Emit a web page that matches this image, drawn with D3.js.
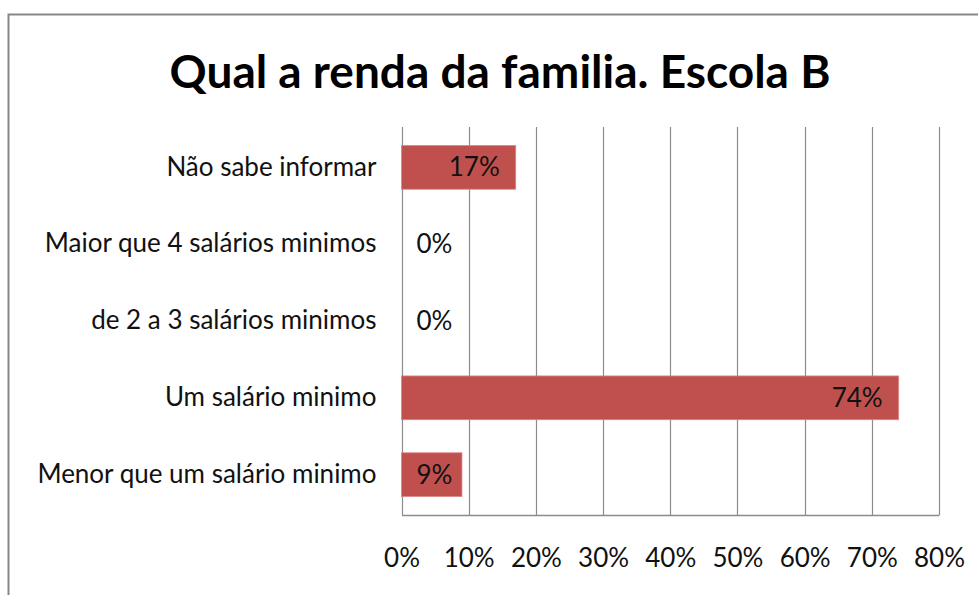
<!DOCTYPE html>
<html>
<head>
<meta charset="utf-8">
<script src="https://cdn.jsdelivr.net/npm/d3@7"></script>
<style>
	body { margin: 0; background: #fff; }
	svg { display: block; font-family: Lato, "Open Sans", sans-serif; }
</style>
</head>
<body>
<svg id="plot" width="978" height="595"></svg>
<script>
const TITLE = 'Qual a renda da familia. Escola B';
const CATEGORIES = ['Não sabe informar', 'Maior que 4 salários minimos', 'de 2 a 3 salários minimos', 'Um salário minimo', 'Menor que um salário minimo'];
const VALUES = [0.17, 0, 0, 0.74, 0.09];
const LABELS = ['17%', '0%', '0%', '74%', '9%'];
const TICKS = [0, 0.1, 0.2, 0.3, 0.4, 0.5, 0.6, 0.7, 0.8];

function draw() {
	var svg = d3.select('#plot');
	var left = 401.5, right = 939, top = 127, bottom = 515;

	// chart frame
	svg.append('rect')
		.attr('x', 8.5).attr('y', 14.5)
		.attr('width', 1000).attr('height', 1000)
		.attr('fill', 'none').attr('stroke', '#878787').attr('stroke-width', 2);

	svg.append('text')
		.attr('x', 500).attr('y', 88)
		.attr('text-anchor', 'middle')
		.attr('font-size', 46).attr('font-weight', 'bold')
		.attr('fill', '#000')
		.text(TITLE);

	var x = d3.scaleLinear().domain([0, 0.8]).range([left, right]);
	var y = d3.scaleBand().domain(CATEGORIES).range([top, bottom]).paddingInner(0.43).paddingOuter(0.24);

	// gridlines
	svg.append('g')
		.selectAll('line')
		.data(TICKS)
		.enter()
		.append('line')
			.attr('x1', (d) => Math.round(x(d)) + 0.5)
			.attr('x2', (d) => Math.round(x(d)) + 0.5)
			.attr('y1', top).attr('y2', bottom)
			.attr('stroke', '#8c8c8c').attr('stroke-width', 1.2);

	// bottom axis
	var xAxis = d3.axisBottom(x).tickValues(TICKS).tickFormat(d3.format('.0%')).tickSize(0).tickPadding(34);
	var gx = svg.append('g')
		.attr('transform', `translate(0, ${bottom})`)
		.call(xAxis);
	gx.select('.domain').attr('stroke', '#8c8c8c').attr('stroke-width', 1.5);
	gx.selectAll('text').attr('font-size', 26).attr('fill', '#111').attr('font-family', 'Lato, sans-serif');

	// left axis (category labels)
	var yAxis = d3.axisLeft(y).tickSize(0).tickPadding(25);
	var gy = svg.append('g')
		.attr('transform', `translate(${left}, 0)`)
		.call(yAxis);
	gy.select('.domain').remove();
	gy.selectAll('text').attr('font-size', 26).attr('fill', '#111').attr('font-family', 'Lato, sans-serif');

	// bars
	svg.append('g')
		.selectAll('rect')
		.data(VALUES)
		.enter()
		.append('rect')
			.attr('x', left)
			.attr('y', (d, i) => y(CATEGORIES[i]))
			.attr('width', (d) => x(d) - left)
			.attr('height', y.bandwidth())
			.attr('fill', '#c0504d')
			.attr('stroke', '#d98a88').attr('stroke-width', 0.8);

	// value labels
	svg.append('g')
		.selectAll('text')
		.data(VALUES)
		.enter()
		.append('text')
			.attr('y', (d, i) => y(CATEGORIES[i]) + y.bandwidth() / 2)
			.attr('dy', '0.35em')
			.attr('font-size', 26)
			.attr('fill', '#111')
			.text((d, i) => LABELS[i])
			.attr('text-anchor', 'end')
			.attr('x', function(d) {
				var w = this.getComputedTextLength();
				return Math.max(x(d) - 16, left + 15 + w);
			});
}

whenLoaded(draw);

function whenLoaded(action) {
	if (document.readyState === 'loading') {
		document.addEventListener('DOMContentLoaded', action);
	} else {
		action();
	}
}
</script>
</body>
</html>
